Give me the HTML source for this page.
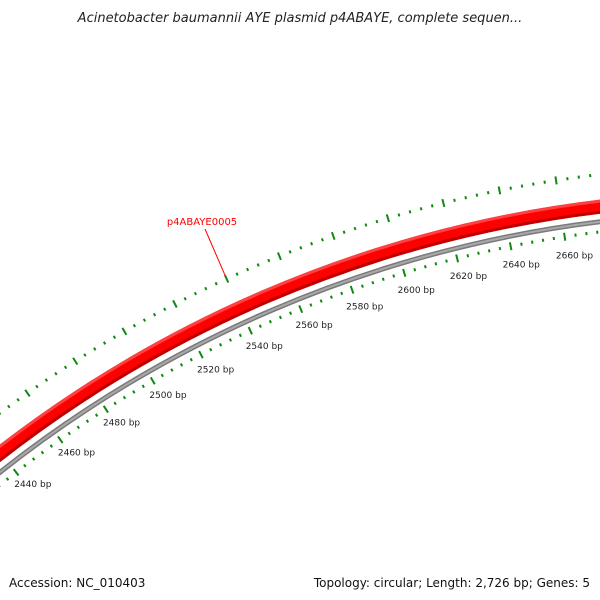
<!DOCTYPE html>
<html><head><meta charset="utf-8">
<style>
html,body{margin:0;padding:0;background:#fff;width:600px;height:600px;overflow:hidden;}
svg{display:block;overflow:hidden;font-family:"DejaVu Sans","Liberation Sans",sans-serif;}
</style></head>
<body>
<svg id="map" width="600" height="600" viewBox="0 0 600 600">
  <defs><clipPath id="clip"><rect width="600" height="600"/></clipPath></defs>
  <rect width="600" height="600" fill="#fff"/>
  <text x="300" y="22" text-anchor="middle" font-size="13" font-style="italic" fill="#222">Acinetobacter baumannii AYE plasmid p4ABAYE, complete sequen...</text>
  <g clip-path="url(#clip)">
    <g id="rings"></g>
    <g id="ticks"></g>
    <g id="labels"></g>
  </g>
  <text x="9" y="587" font-size="12" fill="#111">Accession: NC_010403</text>
  <text x="590" y="587" text-anchor="end" font-size="12" fill="#111">Topology: circular; Length: 2,726 bp; Genes: 5</text>
</svg>
<script>
const seqLength = [2726];
const tickStart = [2400];
const tickEnd = [2700];
const minorStep = [4];
const majorStep = [20];
const labelPositions = [2440, 2460, 2480, 2500, 2520, 2540, 2560, 2580, 2600, 2620, 2640, 2660];
const featureNames = ["p4ABAYE0005"];
const featureLabelBp = [2540];

const NS = "http://www.w3.org/2000/svg";
const CX = 745, CY = 1413;
const R_IN = 1190, R_OUT = 1247, R_RED = 1215, R_GRAY = 1200, R_LAB = 1172;
function ang(bp){ return bp / seqLength[0] * 2 * Math.PI; }
function pt(bp, r){ const a = ang(bp); return [CX + r * Math.sin(a), CY - r * Math.cos(a)]; }
function mk(tag, attrs, parent){ const e = document.createElementNS(NS, tag); for (const k in attrs) e.setAttribute(k, attrs[k]); parent.appendChild(e); return e; }
function arc(r){ const a = pt(tickStart[0], r), b = pt(tickEnd[0], r); return 'M' + a[0] + ' ' + a[1] + ' A' + r + ' ' + r + ' 0 0 1 ' + b[0] + ' ' + b[1]; }

const rings = document.getElementById('rings');
let c;
c = mk('path', {d:arc(R_RED), fill:'none', stroke:'#f00', 'stroke-width':14}, rings);


c = mk('path', {d:arc(R_RED+5.5), fill:'none', stroke:'#ff4040', 'stroke-width':3}, rings);


c = mk('path', {d:arc(R_RED-5.5), fill:'none', stroke:'#c00000', 'stroke-width':3}, rings);


c = mk('path', {d:arc(R_GRAY), fill:'none', stroke:'#7a7a7a', 'stroke-width':5}, rings);


c = mk('path', {d:arc(R_GRAY), fill:'none', stroke:'#a8a8a8', 'stroke-width':2}, rings);



const ticks = document.getElementById('ticks');
for (let bp = tickStart[0]; bp <= tickEnd[0]; bp += minorStep[0]) {
  const major = bp % majorStep[0] === 0;
  const h = major ? 4 : 1.5;
  [R_IN, R_OUT].forEach(function(r, i){
    const a = pt(bp, r - h), b = pt(bp, r + h);
    if (Math.max(a[1], b[1]) > 598 || Math.min(a[0], b[0]) < -5) return;
    const l = mk('line', {x1:a[0], y1:a[1], x2:b[0], y2:b[1], stroke:'#118811', 'stroke-width':2}, ticks);
    
    
  });
}

const labels = document.getElementById('labels');
labelPositions.forEach(function(bp){
  const p = pt(bp + 0.35 / 360 * seqLength[0], R_LAB);
  const t = mk('text', {x:p[0], y:p[1] + 5, 'text-anchor':'middle', 'font-size':9, fill:'#222'}, labels);
  t.textContent = bp + ' bp';
  
  
});

featureNames.forEach(function(name, i){
  const a = pt(featureLabelBp[i], R_OUT + 2);
  const l = mk('line', {x1:a[0], y1:a[1], x2:205, y2:229, stroke:'#f00', 'stroke-width':1}, labels);
  
  
  const t = mk('text', {x:202, y:225, 'text-anchor':'middle', 'font-size':10, fill:'#f00'}, labels);
  t.textContent = name;
  
  
});
</script>
</body></html>
